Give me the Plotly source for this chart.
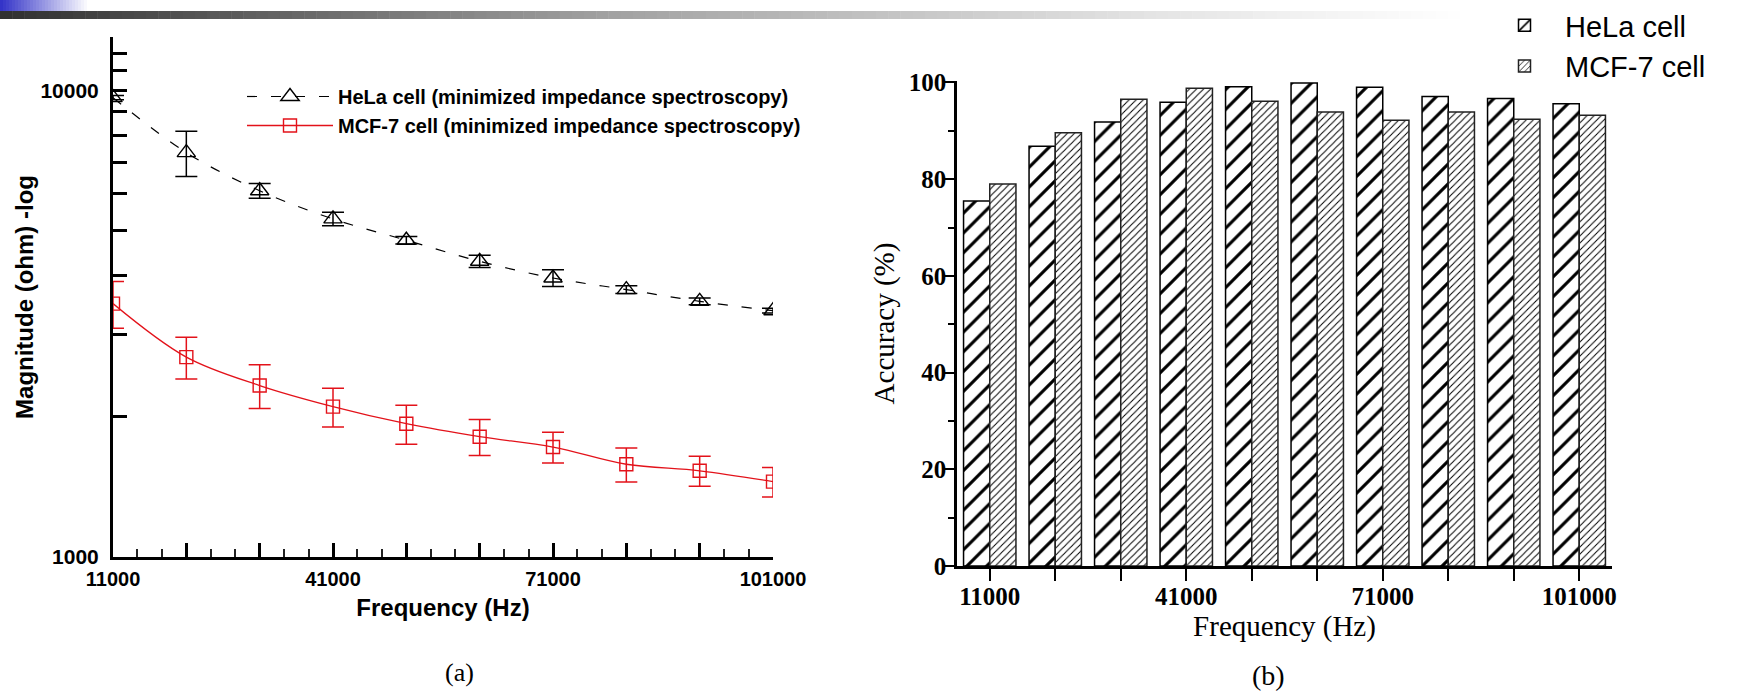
import plotly.graph_objects as go
import numpy as np

# ---------------- data ----------------
freq = [11000, 21000, 31000, 41000, 51000, 61000, 71000, 81000, 91000, 101000]
freq_labels = ["11000", "", "", "41000", "", "", "71000", "", "", "101000"]

hela_mag = [9640, 7350, 6090, 5300, 4770, 4300, 3960, 3740, 3530, 3370]
hela_err = [100, 820, 225, 175, 90, 130, 165, 70, 60, 40]
mcf_mag = [3490, 2680, 2330, 2100, 1930, 1810, 1720, 1580, 1530, 1450]
mcf_err = [400, 275, 250, 200, 185, 160, 130, 133, 113, 105]

hela_acc = [75.5, 86.8, 91.8, 95.9, 99.1, 99.9, 99.0, 97.1, 96.7, 95.6]
mcf_acc = [79.0, 89.6, 96.5, 98.8, 96.1, 93.9, 92.2, 93.9, 92.4, 93.2]

mag_ticks = [1000, 2000, 3000, 4000, 5000, 6000, 7000, 8000, 9000, 10000, 11000, 12000, 13000]
mag_labels = ["1000", "", "", "", "", "", "", "", "", "10000", "", "", ""]
acc_ticks = [0, 20, 40, 60, 80, 100]

W, H = 1744, 692
RED = "#e3121a"
SANS = "Liberation Sans"
TIMES = "Liberation Serif"

fig = go.Figure()

# ---------------- (a) impedance ----------------
fig.add_trace(go.Scatter(
    x=freq, y=hela_mag, name="HeLa cell (minimized impedance spectroscopy)",
    mode="lines+markers", xaxis="x", yaxis="y", legend="legend", legendgroup="a1",
    line=dict(color="black", width=1.2, dash="10px,14px", shape="spline", smoothing=1.0),
    marker=dict(symbol="triangle-up-open", size=16, color="black", line=dict(width=1.4)),
    error_y=dict(type="data", array=hela_err, color="black", thickness=1.5, width=11),
))
fig.add_trace(go.Scatter(
    x=freq, y=mcf_mag, name="MCF-7 cell (minimized impedance spectroscopy)",
    mode="lines+markers", xaxis="x", yaxis="y", legend="legend", legendgroup="a2",
    line=dict(color=RED, width=1.3, shape="spline", smoothing=1.0),
    marker=dict(symbol="square-open", size=13, color=RED, line=dict(width=1.4)),
    error_y=dict(type="data", array=mcf_err, color=RED, thickness=1.5, width=11),
))

# ---------------- (b) accuracy ----------------
fig.add_trace(go.Bar(
    x=freq, y=hela_acc, name="HeLa cell", xaxis="x2", yaxis="y2", legend="legend2",
    marker=dict(color="white", line=dict(color="black", width=1.5),
                pattern=dict(shape="/", size=14, solidity=0.22, fgcolor="black",
                             bgcolor="white", fgopacity=1)),
))
fig.add_trace(go.Bar(
    x=freq, y=mcf_acc, name="MCF-7 cell", xaxis="x2", yaxis="y2", legend="legend2",
    marker=dict(color="white", line=dict(color="#222", width=1.5),
                pattern=dict(shape="/", size=5, solidity=0.2, fgcolor="black",
                             bgcolor="white", fgopacity=1)),
))


def px_x(p):
    return p / W


def px_y(p):
    return 1 - p / H


fig.update_layout(
    width=W, height=H, autosize=False,
    margin=dict(l=0, r=0, t=0, b=0, autoexpand=False),
    paper_bgcolor="white", plot_bgcolor="white",
    showlegend=True,
    barmode="group", bargap=0.2, bargroupgap=0.0,
    xaxis=dict(
        domain=[px_x(113), px_x(773)], anchor="y", automargin=False,
        range=[11000, 101000], tickvals=freq, ticktext=freq_labels,
        showline=True, linecolor="black", linewidth=3,
        ticks="inside", ticklen=14, tickwidth=3, tickcolor="black",
        minor=dict(ticks="inside", ticklen=8, tickwidth=2, tickcolor="#222",
                   tick0=11000, dtick=10000 / 3),
        showgrid=False, zeroline=False, ticklabelstandoff=2,
        tickfont=dict(family=SANS, size=20, color="black", weight="bold"),
        title=dict(text="<b>Frequency (Hz)</b>", standoff=11,
                   font=dict(family=SANS, size=24, color="black")),
    ),
    yaxis=dict(
        domain=[px_y(557), px_y(37)], anchor="x", automargin=False,
        type="log", range=[3, np.log10(13000)],
        tickvals=mag_ticks, ticktext=mag_labels,
        showline=True, linecolor="black", linewidth=3,
        ticks="inside", ticklen=14, tickwidth=3, tickcolor="black",
        showgrid=False, zeroline=False, ticklabelstandoff=7,
        tickfont=dict(family=SANS, size=21, color="black", weight="bold"),
        title=dict(text="<b>Magnitude (ohm) -log</b>", standoff=0,
                   font=dict(family=SANS, size=24, color="black")),
    ),
    xaxis2=dict(
        domain=[px_x(957), px_x(1612)], anchor="y2", automargin=False,
        range=[6000, 106000], tickvals=freq, ticktext=freq_labels,
        showline=True, linecolor="black", linewidth=2.5,
        ticks="outside", ticklen=12, tickwidth=2, tickcolor="black",
        showgrid=False, zeroline=False, ticklabelstandoff=-6,
        tickfont=dict(family=TIMES, size=25, color="black", weight="bold"),
        title=dict(text="Frequency (Hz)", standoff=4,
                   font=dict(family=TIMES, size=29, color="black")),
    ),
    yaxis2=dict(
        domain=[px_y(566), px_y(81)], anchor="x2", automargin=False,
        range=[0, 100.3], tickvals=acc_ticks,
        showline=True, linecolor="black", linewidth=2.5,
        ticks="outside", ticklen=10, tickwidth=2, tickcolor="black",
        minor=dict(ticks="outside", ticklen=6, tickwidth=2, tickcolor="black", dtick=10),
        showgrid=False, zeroline=False, ticklabelstandoff=-7,
        tickfont=dict(family=TIMES, size=25, color="black", weight="bold"),
        title=dict(text="Accuracy (%)", standoff=6,
                   font=dict(family=TIMES, size=29, color="black")),
    ),
    legend=dict(
        x=px_x(242), y=px_y(77), xanchor="left", yanchor="top",
        bgcolor="rgba(0,0,0,0)", borderwidth=0, itemwidth=86,
        font=dict(family=SANS, size=20, color="black", weight="bold"),
        tracegroupgap=0,
    ),
    legend2=dict(
        x=px_x(1484), y=1.0, xanchor="left", yanchor="top",
        bgcolor="rgba(0,0,0,0)", borderwidth=0, itemwidth=71,
        font=dict(family=SANS, size=29, color="black"),
        tracegroupgap=0,
    ),
    annotations=[
        dict(text="(a)", x=px_x(459), y=px_y(672), xref="paper", yref="paper",
             xanchor="center", yanchor="middle",
             showarrow=False, font=dict(family=TIMES, size=26, color="black")),
        dict(text="(b)", x=px_x(1268), y=px_y(675), xref="paper", yref="paper",
             xanchor="center", yanchor="middle",
             showarrow=False, font=dict(family=TIMES, size=28, color="black")),
    ],
)

# ---------------- slide header decoration (gradients) ----------------
shapes = []


def lerp(c1, c2, t):
    return tuple(int(round(a + (b - a) * t)) for a, b in zip(c1, c2))


nb = 30
for i in range(nb):
    x0, x1 = 90 * i / nb, 90 * (i + 1) / nb
    c = lerp((52, 52, 200), (255, 255, 255), i / (nb - 1))
    shapes.append(dict(type="rect", xref="paper", yref="paper",
                       x0=px_x(x0), x1=px_x(x1 + 0.5), y0=px_y(11), y1=px_y(0),
                       fillcolor="rgb(%d,%d,%d)" % c, line=dict(width=0), layer="below"))
stops = [(0, (48, 48, 48)), (600, (160, 160, 160)), (1150, (228, 228, 228)), (1460, (255, 255, 255))]
ng = 120
for i in range(ng):
    x0, x1 = 1460 * i / ng, 1460 * (i + 1) / ng
    xm = (x0 + x1) / 2
    c = stops[-1][1]
    for (a, ca), (b, cb) in zip(stops[:-1], stops[1:]):
        if a <= xm <= b:
            c = lerp(ca, cb, (xm - a) / (b - a))
            break
    shapes.append(dict(type="rect", xref="paper", yref="paper",
                       x0=px_x(x0), x1=px_x(x1 + 0.5), y0=px_y(19), y1=px_y(11),
                       fillcolor="rgb(%d,%d,%d)" % c, line=dict(width=0), layer="below"))
fig.update_layout(shapes=shapes)

fig.write_html("out.html")
